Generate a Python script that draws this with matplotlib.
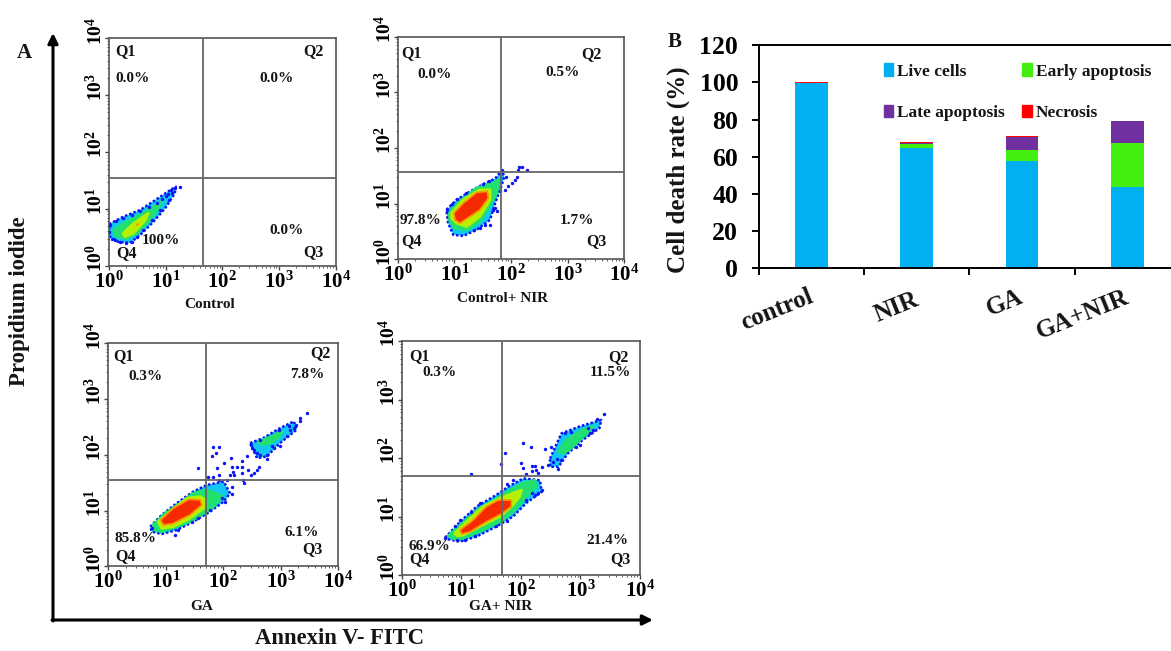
import numpy as np
import matplotlib
matplotlib.use('Agg')
import matplotlib.pyplot as plt
from matplotlib.patches import Patch
from matplotlib.transforms import ScaledTranslation

plt.rcParams['font.family'] = ['Liberation Serif', 'DejaVu Serif']
plt.rcParams['font.weight'] = 'bold'
plt.rcParams['text.color'] = '#151515'
plt.rcParams['mathtext.fontset'] = 'custom'
plt.rcParams['mathtext.bf'] = 'Liberation Serif:bold'
plt.rcParams['mathtext.rm'] = 'Liberation Serif:bold'

W, H = 1171, 651

# Bar data (%)
groups = ['control', 'NIR', 'GA', 'GA+NIR']
live = [99.5, 65.0, 57.8, 44.0]
early = [0.2, 2.0, 5.9, 23.5]
late = [0.2, 0.5, 6.8, 11.5]
necrosis = [0.6, 0.5, 0.5, 0.4]

# Flow panels: values are log10 of the channel
# Control
c_gate = (1.665, 1.537)
c_blue_x = [0, .25, .55, .78, 1.08, 1.18, 1.16, .99, .78, .55, .37, .16, .02]
c_blue_y = [.73, .86, .98, 1.13, 1.33, 1.39, 1.27, 1.01, .77, .54, .40, .42, .51]
c_green_x = [.08, .31, .61, .84, .93, .87, .69, .49, .31, .13]
c_green_y = [.63, .77, .92, 1.07, 1.13, 1.01, .77, .57, .48, .51]
c_yellow_x = [.25, .43, .69, .64, .43, .28]
c_yellow_y = [.57, .74, .92, .80, .57, .51]
c_red_x = [.49, .51, .51, .49]
c_red_y = [.71, .71, .73, .73]
c_dots_x = [1.25, 1.16, 1.10, 1.04, 1.0, .93, .85, .70, .55, .40, .25, .12, .02, .0, .05, .10, .20, .30, .40, .50, .60, .75, .90, 1.05, 1.12]
c_dots_y = [1.38, 1.37, 1.33, 1.27, 1.22, 1.17, 1.10, 1.04, .97, .90, .84, .78, .72, .60, .47, .45, .41, .40, .42, .50, .62, .80, .98, 1.15, 1.28]

# Control + NIR
n_gate = (1.82, 1.575)
n_blue_x = [.86, 1.04, 1.28, 1.51, 1.72, 1.84, 1.88, 1.81, 1.72, 1.63, 1.39, 1.16, .98, .89]
n_blue_y = [.89, 1.07, 1.22, 1.35, 1.45, 1.60, 1.48, 1.25, 1.01, .71, .53, .42, .44, .65]
n_green_x = [.91, 1.10, 1.39, 1.69, 1.78, 1.75, 1.60, 1.45, 1.22, 1.01, .92]
n_green_y = [.83, 1.04, 1.28, 1.37, 1.43, 1.19, .92, .68, .53, .56, .68]
n_yellow_x = [.95, 1.16, 1.45, 1.63, 1.63, 1.45, 1.22, 1.04, .95]
n_yellow_y = [.83, 1.07, 1.25, 1.25, 1.07, .77, .59, .65, .74]
n_red_x = [.99, 1.16, 1.39, 1.58, 1.60, 1.45, 1.28, 1.10, 1.01]
n_red_y = [.83, 1.01, 1.20, 1.22, 1.10, .89, .77, .65, .71]
n_dots_x = [1.84, 1.92, 1.95, 2.01, 2.07, 2.10, 2.13, 2.15, 2.19, 2.29, 1.89, 1.81, 1.72, 1.75, 1.63, 1.54, 1.45, 1.34, 1.69, .87, .95, 1.05, 1.20, 1.50, 1.62]
n_dots_y = [1.60, 1.48, 1.31, 1.37, 1.43, 1.48, 1.60, 1.65, 1.65, 1.61, 1.25, 1.22, .92, .86, .62, .62, .56, .53, .89, .88, 1.0, 1.08, 1.20, 1.36, 1.40]

# GA
g_gate = (1.70, 1.54)
g_blue_x = [.73, .93, 1.19, 1.48, 1.72, 2.01, 2.12, 2.01, 1.77, 1.48, 1.19, .93, .76]
g_blue_y = [.71, .92, 1.13, 1.34, 1.46, 1.52, 1.31, 1.16, .98, .80, .65, .58, .62]
g_green_x = [.78, .99, 1.25, 1.48, 1.69, 1.89, 1.98, 1.83, 1.66, 1.42, 1.19, .93, .81]
g_green_y = [.74, .95, 1.13, 1.31, 1.37, 1.31, 1.25, 1.07, .95, .80, .71, .62, .65]
g_yellow_x = [.87, 1.08, 1.37, 1.60, 1.69, 1.66, 1.42, 1.13, .93]
g_yellow_y = [.80, .98, 1.22, 1.25, 1.19, 1.04, .86, .71, .68]
g_red_x = [.91, 1.13, 1.40, 1.60, 1.63, 1.42, 1.13, .96]
g_red_y = [.83, 1.04, 1.20, 1.19, 1.10, .92, .77, .74]
g_upper_blue_x = [2.47, 2.70, 2.94, 3.23, 3.28, 2.99, 2.76, 2.59]
g_upper_blue_y = [2.21, 2.30, 2.45, 2.60, 2.45, 2.21, 1.97, 1.94]
g_upper_green_x = [2.62, 2.85, 3.02, 2.99, 2.82, 2.67]
g_upper_green_y = [2.24, 2.33, 2.42, 2.33, 2.21, 2.18]
g_dots_x = [3.46, 3.34, 3.33, 3.26, 3.14, 3.11, 2.99, 2.88, 2.76, 2.62, 2.53, 2.41, 2.33, 2.33, 2.24, 2.15, 2.18, 2.12, 2.19, 2.33, 2.35, 2.37, 2.44, 2.49, 2.59, 2.13, 2.01, 1.89, 1.92, 1.83, 1.92, 1.88, 1.80, 1.57, 1.73, 1.83, 1.92, 2.06, 2.15, 2.15, 2.03, 1.98, 1.77, 1.57, 1.45, 1.16, 1.22, .76, 2.48, 2.53, 2.65, 2.76, 2.85, 2.59, 2.50, 2.65, 2.97, 3.17, 3.23]
g_dots_y = [2.75, 2.66, 2.61, 2.54, 2.51, 2.33, 2.15, 2.12, 1.92, 1.79, 1.67, 1.97, 1.88, 1.79, 1.79, 1.79, 1.70, 1.64, 1.64, 1.67, 1.55, 1.50, 1.73, 1.64, 1.72, 1.95, 1.86, 1.76, 1.64, 2.14, 2.14, 2.04, 1.98, 1.76, 1.60, 1.61, 1.55, 1.55, 1.43, 1.30, 1.16, 1.22, 1.01, .86, .80, .57, .65, .68, 2.18, 2.09, 2.0, 2.0, 2.15, 2.03, 2.12, 2.27, 2.45, 2.45, 2.48]

# GA + NIR
gn_gate = (1.68, 1.69)
gn_blue_x = [.73, .98, 1.26, 1.59, 1.79, 2.04, 2.32, 2.35, 2.09, 1.87, 1.59, 1.26, .98, .78]
gn_blue_y = [.64, .91, 1.17, 1.37, 1.51, 1.65, 1.62, 1.42, 1.23, 1.00, .83, .66, .57, .61]
gn_green_x = [.78, 1.01, 1.26, 1.56, 1.82, 2.04, 2.23, 2.26, 2.09, 1.90, 1.70, 1.37, 1.03, .89]
gn_green_y = [.67, .88, 1.11, 1.28, 1.45, 1.57, 1.62, 1.51, 1.34, 1.11, .94, .77, .63, .61]
gn_yellow_x = [.89, 1.09, 1.37, 1.65, 1.87, 2.01, 1.98, 1.84, 1.65, 1.31, 1.03, .93]
gn_yellow_y = [.71, .91, 1.17, 1.31, 1.40, 1.45, 1.34, 1.17, 1.00, .83, .68, .67]
gn_red_x = [.98, 1.20, 1.42, 1.62, 1.84, 1.84, 1.68, 1.42, 1.15, 1.01]
gn_red_y = [.77, .94, 1.17, 1.28, 1.28, 1.17, 1.05, .91, .74, .70]
gn_upper_blue_x = [2.49, 2.68, 2.99, 3.35, 3.32, 3.04, 2.79, 2.63, 2.49]
gn_upper_blue_y = [1.99, 2.42, 2.54, 2.65, 2.51, 2.31, 2.08, 1.85, 1.85]
gn_upper_green_x = [2.63, 2.77, 3.04, 3.21, 3.04, 2.85, 2.71]
gn_upper_green_y = [2.11, 2.31, 2.48, 2.54, 2.36, 2.17, 2.08]
gn_dots_x = [3.39, 3.27, 2.04, 2.17, 2.41, 2.51, 1.73, 1.66, 1.16, 2.01, 2.04, 2.18, 2.23, 2.18, 2.26, 2.36, 2.29, 2.09, 2.46, 2.54, 2.63, 1.76, 1.87, 2.35, 2.29, 2.18, 2.23, 2.09, 1.31, 1.17, .98, .89, .73, .92, 1.06, 1.23, 1.59, 1.76, 2.74, 2.85, 3.16, 3.21, 3.13, 2.99, 2.93, 2.68, 2.60]
gn_dots_y = [2.75, 2.66, 2.26, 2.18, 2.15, 2.18, 2.08, 1.89, 1.73, 1.92, 1.83, 1.86, 1.86, 1.77, 1.79, 1.85, 1.74, 1.73, 1.88, 1.94, 1.82, 1.56, 1.62, 1.45, 1.40, 1.40, 1.37, 1.28, 1.23, 1.08, .94, .83, .64, .59, .60, .67, .83, .93, 2.42, 2.45, 2.42, 2.48, 2.51, 2.22, 2.19, 1.97, 1.99]

# Quadrant percentages and names
c_pct = ['0.0%', '0.0%', '100%', '0.0%']
n_pct = ['0.0%', '0.5%', '97.8%', '1.7%']
g_pct = ['0.3%', '7.8%', '85.8%', '6.1%']
gn_pct = ['0.3%', '11.5%', '66.9%', '21.4%']
quadrants = ['Q1', 'Q2', 'Q4', 'Q3']
decade_labels = [r'$\mathbf{10^{%d}}$' % i for i in range(5)]

BLUE, CYAN, GREEN, YELLOW, RED, ORANGE = '#0a14f5', '#12c8f0', '#22e070', '#b4f000', '#f52a00', '#ff9000'
EDGES = {CYAN: (BLUE, 1.8), GREEN: (GREEN, 2.0), YELLOW: (YELLOW, 2.0), RED: (ORANGE, 1.2)}


def axes_px(l, t, r, b, **kw):
    return fig.add_axes([l / W, 1 - b / H, (r - l) / W, (b - t) / H], **kw)


def flow_panel(box, gate, clouds, dots_x, dots_y):
    ax = axes_px(*box)
    ax.set_xscale('log')
    ax.set_yscale('log')
    ax.set_xlim(1, 1e4)
    ax.set_ylim(1, 1e4)
    for px, py, col in clouds:
        edge, lw = EDGES[col]
        ls = (0, (1, 0.8)) if col == CYAN else '-'
        ax.fill(10 ** np.array(px), 10 ** np.array(py), facecolor=col, edgecolor=edge, lw=lw,
                ls=ls, joinstyle='round', zorder=2)
    ax.scatter(10 ** np.array(dots_x), 10 ** np.array(dots_y), s=6, c=BLUE, lw=0, zorder=3)
    ax.axvline(10 ** gate[0], color='#666666', lw=1.3, zorder=4)
    ax.axhline(10 ** gate[1], color='#666666', lw=1.3, zorder=4)
    ticks = [1, 10, 100, 1000, 10000]
    ax.set_xticks(ticks, decade_labels, fontsize=15)
    ax.set_yticks(ticks, decade_labels, fontsize=14, rotation=90, va='bottom')
    ax.tick_params(which='major', length=3, width=1, color='#444444', pad=1)
    ax.tick_params(axis='y', which='major', pad=-1)
    ax.tick_params(which='minor', length=1.5, width=.6, color='#444444', labelbottom=False, labelleft=False)
    # labels sit a bit above their ticks; tick_params resets the transform, so shift last
    shift = ScaledTranslation(0, -4.5 / 72, fig.dpi_scale_trans)
    for lab in ax.get_yticklabels():
        lab.set_transform(lab.get_transform() + shift)
    for s in ax.spines.values():
        s.set_color('#555555')
        s.set_linewidth(1.2)
    return ax


fig = plt.figure(figsize=(W / 100, H / 100), dpi=100, facecolor='white')

flow_panel((109, 38.3, 335.7, 265.7), c_gate,
           [(c_blue_x, c_blue_y, CYAN), (c_green_x, c_green_y, GREEN),
            (c_yellow_x, c_yellow_y, YELLOW), (c_red_x, c_red_y, RED)], c_dots_x, c_dots_y)
flow_panel((397.7, 36.7, 624.3, 259.3), n_gate,
           [(n_blue_x, n_blue_y, CYAN), (n_green_x, n_green_y, GREEN),
            (n_yellow_x, n_yellow_y, YELLOW), (n_red_x, n_red_y, RED)], n_dots_x, n_dots_y)
flow_panel((108.3, 343.3, 338, 566.3), g_gate,
           [(g_blue_x, g_blue_y, CYAN), (g_green_x, g_green_y, GREEN),
            (g_yellow_x, g_yellow_y, YELLOW), (g_red_x, g_red_y, RED),
            (g_upper_blue_x, g_upper_blue_y, CYAN), (g_upper_green_x, g_upper_green_y, GREEN)], g_dots_x, g_dots_y)
flow_panel((401.7, 341, 640, 575), gn_gate,
           [(gn_blue_x, gn_blue_y, CYAN), (gn_green_x, gn_green_y, GREEN),
            (gn_yellow_x, gn_yellow_y, YELLOW), (gn_red_x, gn_red_y, RED),
            (gn_upper_blue_x, gn_upper_blue_y, CYAN), (gn_upper_green_x, gn_upper_green_y, GREEN)], gn_dots_x, gn_dots_y)

# Bar chart
ax = axes_px(759, 45.3, 1171, 268.3)
x = np.arange(1, 5)
bottom = np.zeros(4)
colors = ['#00b0f0', '#44ee10', '#7030a0', '#ff0000']
names = ['Live cells', 'Early apoptosis', 'Late apoptosis', 'Necrosis']
for vals, col in zip([live, early, late, necrosis], colors):
    ax.bar(x, vals, 0.31, bottom=bottom, color=col, lw=0)
    bottom += np.array(vals)
ax.set_xlim(0.5, 0.5 + 412 / 105.2)
ax.set_ylim(0, 120)
ax.set_yticks(range(0, 121, 20))
ax.tick_params(axis='y', labelsize=18.5, length=5, width=1.4, pad=10)
ax.set_xticks([0.5, 1.5, 2.5, 3.5], [])
ax.tick_params(axis='x', length=5, width=1.4)
ax.spines['right'].set_visible(False)
for s in ['left', 'top', 'bottom']:
    ax.spines[s].set_linewidth(1.4)
order = [0, 2, 1, 3]
ax.legend([Patch(color=colors[i]) for i in order], [names[i] for i in order], ncol=2, frameon=False,
          loc='upper left', bbox_to_anchor=(0.303, 0.92), borderaxespad=0, borderpad=0, fontsize=12.5,
          handlelength=0.55, handleheight=0.75, handletextpad=0.22, labelspacing=1.45, columnspacing=1.0)

# Text overlay in picture pixels
ov = fig.add_axes([0, 0, 1, 1], facecolor='none')
ov.set_xlim(0, W)
ov.set_ylim(H, 0)
ov.axis('off')


def label_panel(q_pos, pct, pct_pos, name, name_pos):
    for t, p in zip(quadrants, q_pos):
        ov.text(p[0], p[1], t, ha='center', va='center', fontsize=11.5)
    for t, p in zip(pct, pct_pos):
        ov.text(p[0], p[1], t, ha='center', va='center', fontsize=11)
    ov.text(name_pos[0], name_pos[1], name, ha='center', va='center', fontsize=11)


label_panel([(125, 51), (313, 51), (126, 253), (313, 252)], c_pct,
            [(133, 78), (277, 79), (161, 240), (286, 231)], 'Control', (210, 304))
label_panel([(411, 53), (591, 54), (411, 241), (596, 241)], n_pct,
            [(434, 75), (562, 72), (421, 221), (577, 221)], 'Control+ NIR', (503, 299))
label_panel([(124, 356), (320, 353), (125, 556), (312, 549)], g_pct,
            [(145, 376), (307, 374), (135, 539), (302, 532)], 'GA', (202, 607))
label_panel([(419, 356), (618, 357), (419, 559), (620, 559)], gn_pct,
            [(439, 373), (610, 373), (429, 546), (607, 540)], 'GA+ NIR', (501, 606))

ov.text(24, 53, 'A', ha='center', va='center', fontsize=15)
ov.text(675, 42, 'B', ha='center', va='center', fontsize=15)
ov.text(20, 301, 'Propidium iodide', rotation=90, ha='center', va='center', fontsize=16.5)
ov.text(340, 639, 'Annexin V- FITC', ha='center', va='center', fontsize=16.3)
ov.text(678, 170, 'Cell death rate (%)', rotation=90, ha='center', va='center', fontsize=18)
for t, p in zip(groups, [(777, 310), (896, 307), (1005, 303), (1083, 315)]):
    ov.text(p[0], p[1], t, rotation=22, ha='center', va='center', fontsize=18)

arrow = dict(arrowstyle='-|>,head_length=0.6,head_width=0.3', color='black', lw=2.2, shrinkA=0, shrinkB=0)
ov.annotate('', xy=(53, 33), xytext=(53, 621), arrowprops=arrow)
ov.annotate('', xy=(653, 620), xytext=(52, 620), arrowprops=arrow)

fig.savefig('out.png', dpi=100)
